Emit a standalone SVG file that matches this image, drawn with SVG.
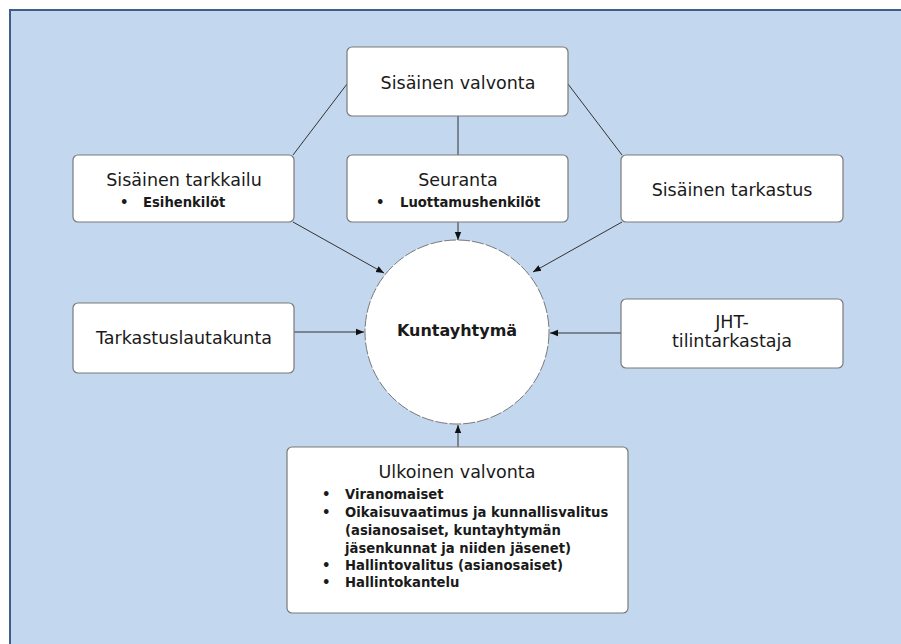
<svg xmlns="http://www.w3.org/2000/svg" width="901" height="644" viewBox="0 0 901 644">
<style>
.box{fill:#fff;stroke:#7a7a7a;stroke-width:1.2}
.t{font-family:"DejaVu Sans",Verdana,sans-serif;font-size:17.5px;fill:#1a1a1a;text-anchor:middle}
.b{font-family:"DejaVu Sans",Verdana,sans-serif;font-size:13.2px;font-weight:bold;fill:#1a1a1a}
.c{font-family:"DejaVu Sans",Verdana,sans-serif;font-size:16px;font-weight:bold;fill:#1a1a1a;text-anchor:middle}
.ln{stroke:#333;stroke-width:1;fill:none}
.ar{stroke:#333;stroke-width:1;fill:none;marker-end:url(#ah)}
</style>
<defs>
<marker id="ah" viewBox="0 0 10 10" refX="10" refY="5" markerWidth="8" markerHeight="8" markerUnits="userSpaceOnUse" orient="auto">
<path d="M0,1 L10,5 L0,9 Z" fill="#111"/>
</marker>
</defs>
<rect x="0" y="0" width="901" height="644" fill="#fff"/>
<rect id="frame" x="10" y="10" width="900" height="650" fill="#c3d7ee" stroke="#3f5c8c" stroke-width="2"/>

<g id="connectors">
<line class="ln" x1="347" y1="84" x2="293" y2="155"/>
<line class="ln" x1="458" y1="116" x2="458" y2="155"/>
<line class="ln" x1="568" y1="84" x2="622" y2="155"/>
<line class="ar" x1="293" y1="222" x2="384" y2="273"/>
<line class="ar" x1="458" y1="222" x2="458" y2="240"/>
<line class="ar" x1="622" y1="222" x2="533" y2="272"/>
<line class="ar" x1="294" y1="332" x2="364" y2="332"/>
<line class="ar" x1="621" y1="333" x2="550" y2="333"/>
<line class="ar" x1="458" y1="447" x2="458" y2="425"/>
</g>

<g id="sisainen-valvonta">
<rect class="box" x="347" y="47" width="221" height="69" rx="5"/>
<text class="t" x="458" y="89">Sisäinen valvonta</text>
</g>

<g id="sisainen-tarkkailu">
<rect class="box" x="73" y="155" width="221" height="67" rx="5"/>
<text class="t" x="184" y="186">Sisäinen tarkkailu</text>
<text class="b" x="120" y="207">•</text>
<text class="b" x="143" y="207">Esihenkilöt</text>
</g>

<g id="seuranta">
<rect class="box" x="347" y="155" width="221" height="67" rx="5"/>
<text class="t" x="458" y="186">Seuranta</text>
<text class="b" x="376" y="207">•</text>
<text class="b" x="400" y="207">Luottamushenkilöt</text>
</g>

<g id="sisainen-tarkastus">
<rect class="box" x="621" y="155" width="222" height="67" rx="5"/>
<text class="t" x="732" y="196">Sisäinen tarkastus</text>
</g>

<g id="tarkastuslautakunta">
<rect class="box" x="73" y="303" width="221" height="70" rx="5"/>
<text class="t" x="184" y="344">Tarkastuslautakunta</text>
</g>

<g id="jht">
<rect class="box" x="621" y="299" width="222" height="69" rx="5"/>
<text class="t" x="732" y="328">JHT-</text>
<text class="t" x="732" y="347">tilintarkastaja</text>
</g>

<g id="kuntayhtyma">
<circle cx="457" cy="332" r="92" fill="#fff" stroke="#7a7a7a" stroke-width="1" stroke-dasharray="12 2"/>
<text class="c" x="457" y="336">Kuntayhtymä</text>
</g>

<g id="ulkoinen-valvonta">
<rect class="box" x="287" y="447" width="341" height="166" rx="5"/>
<text class="t" x="457" y="478">Ulkoinen valvonta</text>
<text class="b" x="322" y="499">•</text>
<text class="b" x="345" y="499">Viranomaiset</text>
<text class="b" x="322" y="517">•</text>
<text class="b" x="345" y="517">Oikaisuvaatimus ja kunnallisvalitus</text>
<text class="b" x="345" y="535">(asianosaiset, kuntayhtymän</text>
<text class="b" x="345" y="553">jäsenkunnat ja niiden jäsenet)</text>
<text class="b" x="322" y="570">•</text>
<text class="b" x="345" y="570">Hallintovalitus (asianosaiset)</text>
<text class="b" x="322" y="587">•</text>
<text class="b" x="345" y="587">Hallintokantelu</text>
</g>
</svg>
